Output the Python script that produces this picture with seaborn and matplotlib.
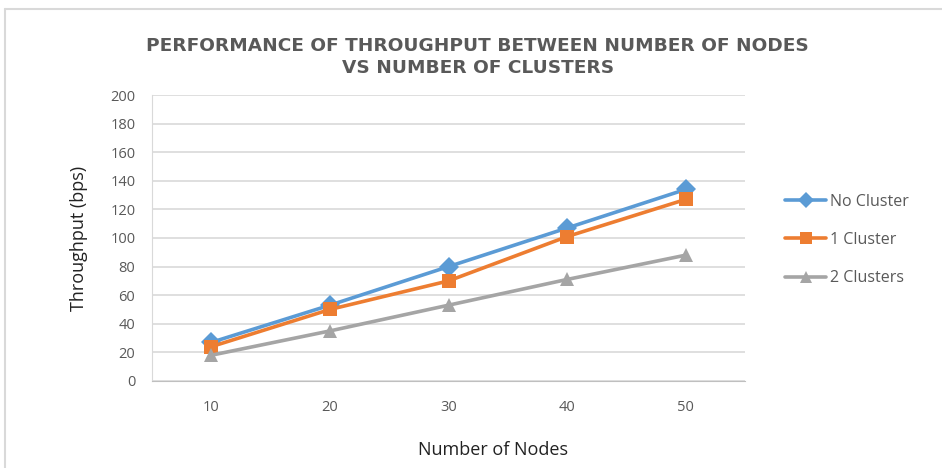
import numpy as np
import pandas as pd
import matplotlib
matplotlib.use("Agg")
import matplotlib.pyplot as plt
import seaborn as sns
from matplotlib.lines import Line2D

nodes = [10, 20, 30, 40, 50]
no_cluster = [27, 53, 80, 107, 134]
one_cluster = [24, 50, 70, 101, 127]
two_clusters = [18, 35, 53, 71, 88]
series_names = ["No Cluster", "1 Cluster", "2 Clusters"]
colors = ["#5B9BD5", "#ED7D31", "#A5A5A5"]
markers = ["D", "s", "^"]
yticks = list(range(0, 201, 20))

df = pd.DataFrame({
    "nodes": nodes * 3,
    "throughput": no_cluster + one_cluster + two_clusters,
    "series": [s for s in series_names for _ in nodes],
})

sns.set_style("white")
plt.rcParams["font.family"] = ["Open Sans", "DejaVu Sans"]
txt = "#595959"

fig = plt.figure(figsize=(9.42, 4.68), dpi=100)
ax = fig.add_axes([0.1614, 0.186, 0.6296, 0.611])

sns.lineplot(data=df, x="nodes", y="throughput", hue="series", style="series",
             markers=markers, dashes=False, palette=colors, linewidth=2.6,
             markersize=10, markeredgewidth=0, ax=ax, legend=False)

ax.set_xlim(5, 55)
ax.set_ylim(0, 200)
ax.set_xticks(nodes)
ax.set_xticklabels([str(n) for n in nodes])
ax.set_yticks(yticks)
ax.yaxis.grid(True, color="#D9D9D9", linewidth=1.2)
ax.xaxis.grid(False)
for s in ["top", "right"]:
    ax.spines[s].set_visible(False)
ax.spines["left"].set_color("#D9D9D9")
ax.spines["bottom"].set_color("#BFBFBF")
ax.tick_params(axis="both", length=0, labelsize=10.5, labelcolor=txt, pad=14)
ax.tick_params(axis="y", pad=12)
ax.set_xlabel("")
ax.set_ylabel("Throughput (bps)", fontsize=13, color="#222222", labelpad=16)

fig.text(493 / 942, 1 - 450 / 468, "Number of Nodes", ha="center", va="center",
         fontsize=13, color="#222222")

fig.text(0.507, 1 - 57 / 468, "PERFORMANCE OF THROUGHPUT BETWEEN NUMBER OF NODES\nVS NUMBER OF CLUSTERS",
         ha="center", va="center", fontsize=13.3, fontweight="bold", color=txt,
         linespacing=1.35, family="DejaVu Sans")

handles = [Line2D([0], [0], color=c, marker=m, linewidth=2.6, markersize=8,
                  markeredgewidth=0) for c, m in zip(colors, markers)]
fig.legend(handles, series_names, loc="center left", bbox_to_anchor=(0.818, 1 - 240 / 468),
           frameon=False, fontsize=11.5, labelcolor=txt, handlelength=2.6,
           handletextpad=0.2, labelspacing=1.4)

# outer chart frame (top and left edges visible)
fig.add_artist(Line2D([0.005, 0.005], [0.0, 0.98], transform=fig.transFigure,
                      color="#D9D9D9", linewidth=1.5))
fig.add_artist(Line2D([0.005, 1.0], [0.98, 0.98], transform=fig.transFigure,
                      color="#D9D9D9", linewidth=1.5))

fig.savefig("out.png", dpi=100, facecolor="white")
